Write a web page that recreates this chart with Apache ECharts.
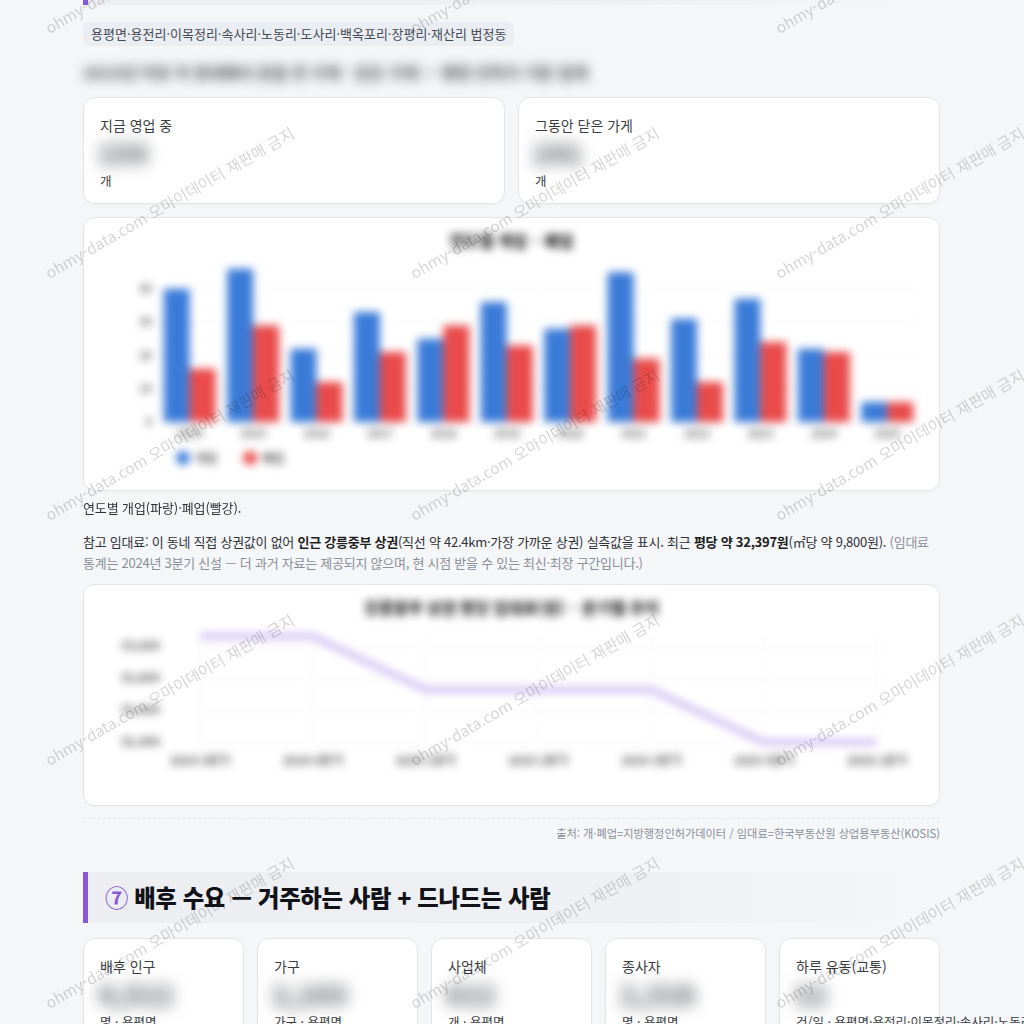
<!DOCTYPE html>
<html lang="ko">
<head>
<meta charset="utf-8">
<script src="https://cdn.jsdelivr.net/npm/echarts@6/dist/echarts.min.js"></script>
<style>
html,body{margin:0;padding:0;background:#f5f6f8;width:1024px;height:1024px;overflow:hidden;
  font-family:"Noto Sans CJK KR","Noto Sans",sans-serif;color:#333;}
.abs{position:absolute;}
.hd{left:83px;width:822px;height:51px;box-sizing:border-box;border-left:5px solid #8757d9;
  background:linear-gradient(90deg,#eceef2 0%,#eef0f3 70%,rgba(240,241,244,0) 100%);}
.hd .t{position:absolute;left:17px;top:0;line-height:51px;font-size:23.3px;font-weight:900;color:#111318;white-space:nowrap;letter-spacing:-0.3px;}
.hd .t .n{color:#8757d9;font-weight:700;}
.chip{left:83px;top:22px;height:24px;line-height:24px;padding:0 8px;font-size:13px;color:#454a52;background:#eaedf2;border-radius:6px;white-space:nowrap;}
.blurline{left:83px;top:60px;font-size:16px;font-weight:900;line-height:24px;color:#5f6268;filter:blur(6px);white-space:nowrap;}
.card{background:#fff;border:1px solid #e4e6ea;border-radius:12px;box-sizing:border-box;box-shadow:0 1px 2px rgba(0,0,0,0.03);}
.card .lb{position:absolute;left:16px;top:17px;line-height:20px;font-size:14px;color:#3a3d42;white-space:nowrap;}
.card .val{position:absolute;left:14px;top:40px;line-height:30px;font-size:27px;font-weight:900;color:#5f6267;filter:blur(8px);white-space:nowrap;}
.card .un{position:absolute;left:16px;top:73px;line-height:20px;font-size:12.5px;color:#3a3d42;white-space:nowrap;}
.chartbox{position:absolute;left:0;top:0;right:0;bottom:0;filter:blur(4.5px);}
.cap{left:83px;font-size:13px;letter-spacing:-0.1px;color:#2f3237;white-space:nowrap;line-height:20px;}
.para{left:83px;width:860px;top:531px;font-size:13px;letter-spacing:-0.25px;line-height:21px;color:#2f3237;}
.para b{color:#1d1f23;font-weight:700;}
.para .g{color:#8a8f98;}
.src{right:84px;top:824px;font-size:11.2px;color:#8a8f98;line-height:18px;white-space:nowrap;}
.dots{left:83px;width:857px;top:818px;border-top:1px dashed #e3e5e9;}
#wm{position:absolute;left:0;top:0;width:1024px;height:1024px;pointer-events:none;overflow:hidden;z-index:50;}
#wm span{position:absolute;font-size:15.5px;line-height:16px;color:rgba(0,0,0,0.17);white-space:nowrap;transform-origin:0 100%;transform:rotate(-30deg);}
</style>
</head>
<body>
<div class="abs hd" style="top:-46px"></div>
<div class="abs chip">용평면·용전리·이목정리·속사리·노동리·도사리·백옥포리·장평리·재산리 법정동</div>
<div class="abs blurline">2015년 이후 이 동네에서 문을 연 가게 · 닫은 가게 — 행정 인허가 기준 집계</div>

<div class="abs card" style="left:83px;top:97px;width:422px;height:107px">
  <div class="lb">지금 영업 중</div><div class="val">154</div><div class="un">개</div>
</div>
<div class="abs card" style="left:518px;top:97px;width:422px;height:107px">
  <div class="lb">그동안 닫은 가게</div><div class="val">241</div><div class="un">개</div>
</div>

<div class="abs card" style="left:83px;top:217px;width:857px;height:274px">
  <div class="chartbox" id="barChart"></div>
</div>

<div class="abs cap" style="top:498px">연도별 개업(파랑)·폐업(빨강).</div>
<div class="abs para">참고 임대료: 이 동네 직접 상권값이 없어 <b>인근 강릉중부 상권</b>(직선 약 42.4km·가장 가까운 상권) 실측값을 표시. 최근 <b>평당 약 32,397원</b>(㎡당 약 9,800원). <span class="g">(임대료 통계는 2024년 3분기 신설 — 더 과거 자료는 제공되지 않으며, 현 시점 받을 수 있는 최신·최장 구간입니다.)</span></div>

<div class="abs card" style="left:83px;top:584px;width:857px;height:222px">
  <div class="chartbox" id="lineChart"></div>
</div>

<div class="abs dots"></div>
<div class="abs src">출처: 개·폐업=지방행정인허가데이터 / 임대료=한국부동산원 상업용부동산(KOSIS)</div>

<div class="abs hd" style="top:872px"><div class="t"><span class="n">⑦</span> 배후 수요 — 거주하는 사람 + 드나드는 사람</div></div>

<div class="abs card" style="left:83px;top:938px;width:161px;height:110px">
  <div class="lb">배후 인구</div><div class="val">4,512</div><div class="un">명 · 용평면</div>
</div>
<div class="abs card" style="left:257px;top:938px;width:161px;height:110px">
  <div class="lb">가구</div><div class="val">2,103</div><div class="un">가구 · 용평면</div>
</div>
<div class="abs card" style="left:431px;top:938px;width:161px;height:110px">
  <div class="lb">사업체</div><div class="val">612</div><div class="un">개 · 용평면</div>
</div>
<div class="abs card" style="left:605px;top:938px;width:161px;height:110px">
  <div class="lb">종사자</div><div class="val">2,318</div><div class="un">명 · 용평면</div>
</div>
<div class="abs card" style="left:779px;top:938px;width:161px;height:110px">
  <div class="lb">하루 유동(교통)</div><div class="val">12</div><div class="un">건/일 · 용평면·용전리·이목정리·속사리·노동리·도사리</div>
</div>

<div id="wm"></div>

<script>
// ---- data: yearly openings / closings ----
const years = ['2014','2015','2016','2017','2018','2019','2020','2021','2022','2023','2024','2025'];
const openCounts  = [40, 46, 22, 33, 25, 36, 28, 45, 31, 37, 22, 6];
const closeCounts = [16, 29, 12, 21, 29, 23, 29, 19, 12, 24, 21, 6];
const barYTicks = [0, 10, 20, 30, 40];

// ---- data: rent per pyeong (quarterly) ----
const quarters = ['2024 3분기','2024 4분기','2025 1분기','2025 2분기','2025 3분기','2025 4분기','2026 1분기'];
const rentPerPyeong = [33060, 33060, 32725, 32725, 32725, 32397, 32397];
const rentYTicks = [32400, 32600, 32800, 33000];

const FONT = '"Noto Sans CJK KR","Noto Sans",sans-serif';

const bar = echarts.init(document.getElementById('barChart'), null, {renderer:'canvas'});
bar.setOption({
  animation:false,
  textStyle:{fontFamily:FONT},
  title:{text:'연도별 개업 · 폐업',left:'center',top:10,textStyle:{fontSize:16,fontWeight:900,color:'#2e2e2e',fontFamily:FONT}},
  legend:{left:87,top:228,icon:'circle',itemWidth:14,itemHeight:14,itemGap:26,
    textStyle:{fontSize:12,fontWeight:'bold',color:'#555',fontFamily:FONT},data:['개업','폐업']},
  grid:{left:74,right:20,top:37.5,bottom:68,containLabel:false},
  xAxis:{type:'category',data:years,
    axisLine:{show:false},axisTick:{show:false},
    axisLabel:{fontSize:11,fontWeight:'bold',color:'#666',margin:6},
    splitLine:{show:false}},
  yAxis:{type:'value',min:0,max:50,
    axisLabel:{fontSize:11,fontWeight:'bold',color:'#666',margin:6,customValues:barYTicks},
    axisTick:{show:false,customValues:barYTicks},
    axisLine:{show:false},
    splitLine:{show:true,lineStyle:{color:'#eef0f3'}}},
  series:[
    {name:'개업',type:'bar',data:openCounts,itemStyle:{color:'#3a7bd8'},barGap:'0%',barCategoryGap:'18%'},
    {name:'폐업',type:'bar',data:closeCounts,itemStyle:{color:'#e94a4a'}}
  ]
});

const line = echarts.init(document.getElementById('lineChart'), null, {renderer:'canvas'});
line.setOption({
  animation:false,
  textStyle:{fontFamily:FONT},
  title:{text:'강릉중부 상권 평당 임대료(원) · 분기별 추이',left:'center',top:10,
    textStyle:{fontSize:16,fontWeight:900,color:'#2e2e2e',fontFamily:FONT}},
  grid:{left:116,right:62,top:48,bottom:60,containLabel:false},
  xAxis:{type:'category',data:quarters,boundaryGap:false,
    axisLine:{show:false},axisTick:{show:false},
    axisLabel:{fontSize:12,fontWeight:'bold',color:'#555',margin:9},
    splitLine:{show:true,lineStyle:{color:'#f0f1f4'}}},
  yAxis:{type:'value',min:32380,max:33080,
    axisLabel:{fontSize:12,fontWeight:'bold',color:'#555',margin:40,customValues:rentYTicks,
      formatter:v=>v.toLocaleString('en-US')},
    axisTick:{show:false,customValues:rentYTicks},
    axisLine:{show:false},
    splitLine:{show:true,lineStyle:{color:'#f0f1f4'}}},
  series:[{type:'line',data:rentPerPyeong,symbol:'none',
    lineStyle:{color:'#cdbcf3',width:6}}]
});

// ---- watermark (real text) ----
(function(){
  const wm = document.getElementById('wm');
  const txt = 'ohmy-data.com 오마이데이터 재판매 금지';
  [35,280,522,767,1010].forEach(function(y){
    [50,415,780].forEach(function(x){
      const s = document.createElement('span');
      s.textContent = txt;
      s.style.left = x + 'px';
      s.style.top = (y - 16) + 'px';
      wm.appendChild(s);
    });
  });
})();
</script>
</body>
</html>
